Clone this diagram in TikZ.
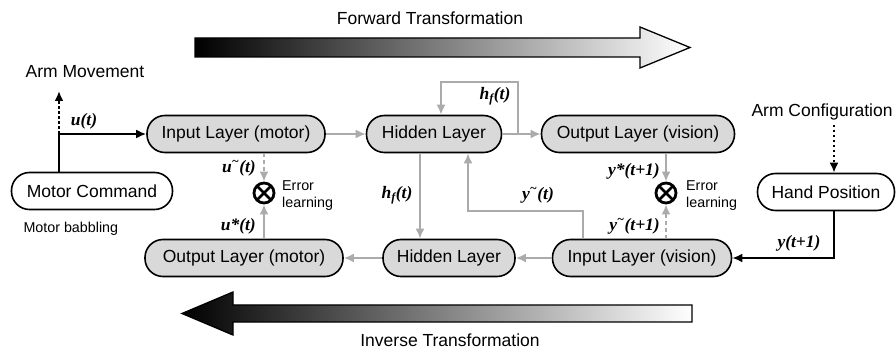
\documentclass[tikz,border=0pt]{standalone}
\usepackage{fontspec}
\setmainfont{Liberation Sans}
\newfontfamily\serifvar{Liberation Serif}
\usetikzlibrary{arrows.meta}

% signal names: bold italic serif
\newcommand{\sig}[1]{{\serifvar\bfseries\itshape #1}}
\newcommand{\tld}{\textsuperscript{\textasciitilde}}

\begin{document}
\begin{tikzpicture}[x=1pt,y=-1pt,
  big/.style={font=\fontsize{17.5}{20}\selectfont},
  small/.style={font=\fontsize{14.3}{17}\selectfont},
  layer/.style={big, draw=black, line width=1.6pt, fill=black!15,
    rounded corners=18pt, minimum height=37pt, inner sep=0pt},
  iobox/.style={layer, fill=white},
  siglab/.style={font=\fontsize{17.5}{19}\selectfont, inner sep=0pt},
  flow/.style={draw=black!33, line width=2.4pt, -{Latex[length=10pt,width=9pt]}},
  dflow/.style={flow, dash pattern=on 4pt off 3pt},
  bk/.style={draw=black, line width=2pt, -{Latex[length=10pt,width=9pt]}},
  bkdot/.style={bk, dash pattern=on 2.5pt off 2.5pt},
  errnode/.style={circle, draw=black, line width=2.8pt, minimum size=20pt, inner sep=0pt,
    path picture={\draw[line width=2.6pt] (path picture bounding box.north west) -- (path picture bounding box.south east)
      (path picture bounding box.north east) -- (path picture bounding box.south west);}},
  bigarrow/.style={draw=black, line width=1.3pt, left color=black, right color=white}
]
\useasboundingbox (0,0) rectangle (896,352);

% transformation arrows
\node[big] (fwdlab) at (430,18) {Forward Transformation};
\shade[bigarrow] (195,38) -- (640,38) -- (640,27) -- (690,47.5) -- (640,68) -- (640,57) -- (195,57) -- cycle;
\node[big] (invlab) at (450,340) {Inverse Transformation};
\shade[bigarrow] (182,313.5) -- (233,292) -- (233,305) -- (692,305) -- (692,322) -- (233,322) -- (233,335) -- cycle;

% forward model (top row)
\node[layer, minimum width=178pt] (inm) at (236,134) {Input Layer (motor)};
\node[layer, minimum width=135pt] (hidt) at (434,134) {Hidden Layer};
\node[layer, minimum width=193pt] (outv) at (638,134) {Output Layer (vision)};

% inverse model (bottom row)
\node[layer, minimum width=198pt] (outm) at (244,258) {Output Layer (motor)};
\node[layer, minimum width=132pt] (hidb) at (449,258) {Hidden Layer};
\node[layer, minimum width=179pt] (inv) at (642,258) {Input Layer (vision)};

% environment side
\node[iobox, minimum width=161pt] (mc) at (92,191) {Motor Command};
\node[iobox, minimum width=137pt] (hp) at (826,192) {Hand Position};
\node[big] (armmove) at (85,72) {Arm Movement};
\node[big, anchor=west] (armconf) at (748,112) {Arm Configuration};
\node[small, anchor=west] (babble) at (20,229) {Motor babbling};

% error comparators
\node[errnode] (errm) at (264,193) {};
\node[errnode] (errv) at (666,193) {};
\node[small, anchor=west, align=left, inner sep=0pt] (errmlab) at (282,196) {Error\\learning};
\node[small, anchor=west, align=left, inner sep=0pt] (errvlab) at (686,196) {Error\\learning};

% motor command paths
\coordinate (junc) at (59,134);
\coordinate (amtip) at (59,91);
\draw[bk] (junc |- mc.north) -- (junc) -- (inm.west);
\draw[bkdot] (junc) -- (amtip);
\node[siglab] (ut) at (84,121) {\sig{u(t)}};

% forward flow
\draw[flow] (inm) -- (hidt);
\draw[flow] (hidt) -- (outv);
\coordinate (lpA) at (518,134);
\coordinate (lpT) at (518,82);
\draw[flow] (lpA) -- (lpT) -| ([xshift=7pt]hidt.north);
\node[siglab] (hfloop) at (495,96) {\sig{h\textsubscript{f}(t)}};

% hidden to hidden
\draw[flow] ([xshift=-14pt]hidt.south) -- ([xshift=-14pt]hidt.south |- hidb.north);
\node[siglab] (hfdown) at (397,195) {\sig{h\textsubscript{f}(t)}};

% inverse flow
\draw[flow] (inv) -- (hidb);
\draw[flow] (hidb) -- (outm);
\coordinate (yturn) at (468,211);
\draw[flow] ([xshift=-59pt]inv.north) |- (yturn) -- (yturn |- hidt.south);
\node[siglab] (ytl) at (538,195) {\sig{y\tld(t)}};

% error signals, motor side
\draw[dflow] (errm |- inm.south) -- (errm.north);
\draw[flow] (errm |- outm.north) -- (errm.south);
\node[siglab, anchor=east] (utl) at (256,168) {\sig{u\tld(t)}};
\node[siglab, anchor=east] (ust) at (256,226) {\sig{u*(t)}};

% error signals, vision side
\draw[flow] (errv |- outv.south) -- (errv.north);
\draw[dflow] (errv |- inv.north) -- (errv.south);
\node[siglab, anchor=east] (yst) at (660,171) {\sig{y*(t+1)}};
\node[siglab, anchor=east] (ytl1) at (660,226) {\sig{y\tld(t+1)}};

% hand position paths
\coordinate (acb) at (834,125);
\draw[bkdot] (acb) -- (acb |- hp.north);
\draw[bk] (acb |- hp.south) |- (inv.east);
\node[siglab] (yt1) at (799,243) {\sig{y(t+1)}};
\end{tikzpicture}
\end{document}
